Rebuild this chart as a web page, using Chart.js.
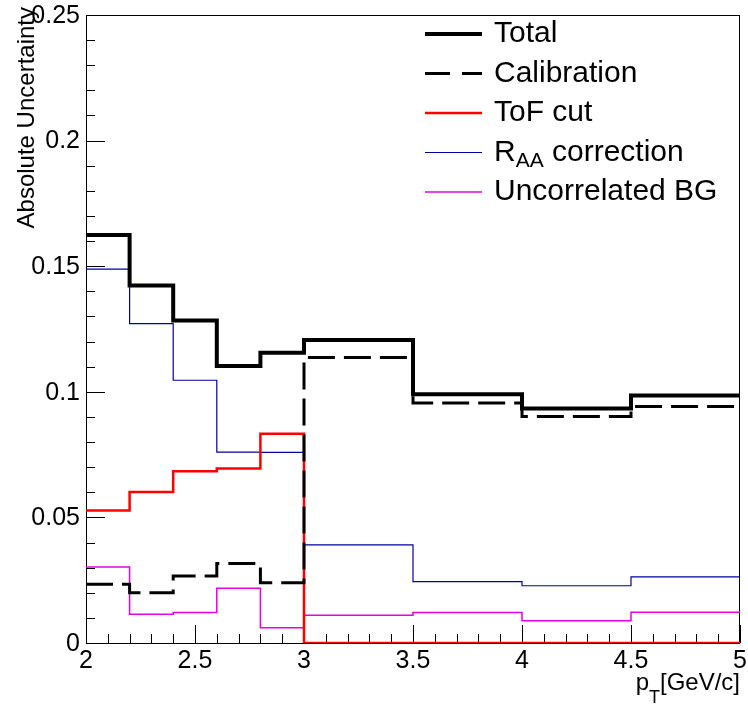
<!DOCTYPE html>
<html>
<head>
<meta charset="utf-8">
<script src="https://cdn.jsdelivr.net/npm/chart.js@4.4.0/dist/chart.umd.min.js"></script>
<style>
  html, body { margin: 0; padding: 0; background: #fff; }
</style>
</head>
<body>
<canvas id="main-chart" width="748" height="707"></canvas>
<script>
// bin edges in pT and the per-bin uncertainties
const binEdges = [2, 2.2, 2.4, 2.6, 2.8, 3.0, 3.5, 4.0, 4.5, 5.0];
const total = [0.1624, 0.1423, 0.1284, 0.1103, 0.1155, 0.1206, 0.0990, 0.0934, 0.0985];
const calibration = [0.0234, 0.0200, 0.0267, 0.0316, 0.0240, 0.1137, 0.0955, 0.0902, 0.0941];
const tofCut = [0.0527, 0.0601, 0.0684, 0.0695, 0.0833, 0, 0, 0, 0];
const raaCorrection = [0.1488, 0.1271, 0.1046, 0.0760, 0.0759, 0.0391, 0.0244, 0.0228, 0.0263];
const uncorrBG = [0.0303, 0.0114, 0.0121, 0.0218, 0.0061, 0.0110, 0.0121, 0.0089, 0.0122];
const seriesNames = ["Total", "Calibration", "ToF cut", "R_{AA} correction", "Uncorrelated BG"];
const yTickLabels = ["0", "0.05", "0.1", "0.15", "0.2", "0.25"];
const xTickLabels = ["2", "2.5", "3", "3.5", "4", "4.5", "5"];

const FONT = '"Liberation Sans", Helvetica, Arial, sans-serif';

// histogram as step line: one point per lower edge + closing point at last edge
function histPoints(values) {
  const pts = values.map((v, i) => ({ x: binEdges[i], y: v }));
  pts.push({ x: binEdges[binEdges.length - 1], y: values[values.length - 1] });
  return pts;
}

// draws "A_{sub}rest" with a subscript, returns width
function drawSubText(ctx, text, x, y, size, subSize, subShift, measureOnly) {
  const m = text.match(/^(.*?)_\{(.*?)\}(.*)$/);
  const parts = m ? [[m[1], size, 0], [m[2], subSize, subShift], [m[3], size, 0]] : [[text, size, 0]];
  let cx = x;
  parts.forEach(([t, s, dy]) => {
    ctx.font = s + "px " + FONT;
    if (!measureOnly) ctx.fillText(t, cx, y + dy);
    cx += ctx.measureText(t).width;
  });
  return cx - x;
}

const rootFrame = {
  id: "rootFrame",
  beforeDatasetsDraw(chart) {
    const { ctx, chartArea: a, scales } = chart;
    ctx.save();
    ctx.strokeStyle = "#000";
    ctx.lineWidth = 1;
    ctx.strokeRect(a.left + 0.5, a.top + 0.5, a.right - a.left - 1, a.bottom - a.top);
    ctx.beginPath();
    // y ticks every 0.01, major every 0.05
    for (let i = 0; i <= 25; i++) {
      const py = Math.round(scales.y.getPixelForValue(i * 0.01)) + 0.5;
      const len = i % 5 === 0 ? 19 : 9;
      ctx.moveTo(a.left, py);
      ctx.lineTo(a.left + len, py);
    }
    // x ticks every 0.1, major every 0.5
    for (let i = 0; i <= 30; i++) {
      const px = Math.round(scales.x.getPixelForValue(2 + i * 0.1)) + 0.5;
      const len = i % 5 === 0 ? 18 : 9;
      ctx.moveTo(px, a.bottom);
      ctx.lineTo(px, a.bottom - len);
    }
    ctx.stroke();
    ctx.restore();
  },
  afterDraw(chart) {
    const { ctx, chartArea: a, scales } = chart;
    ctx.save();
    ctx.fillStyle = "#000";
    // tick labels
    ctx.font = "25px " + FONT;
    ctx.textAlign = "right";
    ctx.textBaseline = "middle";
    yTickLabels.forEach((t) => {
      ctx.fillText(t, a.left - 6, scales.y.getPixelForValue(parseFloat(t)) + 1);
    });
    ctx.textAlign = "center";
    xTickLabels.forEach((t) => {
      ctx.fillText(t, scales.x.getPixelForValue(parseFloat(t)), a.bottom + 18);
    });
    // y title
    ctx.save();
    ctx.translate(34, 7);
    ctx.rotate(-Math.PI / 2);
    ctx.font = "24px " + FONT;
    ctx.textAlign = "right";
    ctx.textBaseline = "alphabetic";
    ctx.fillText("Absolute Uncertainty", 0, 0);
    ctx.restore();
    // x title
    ctx.textAlign = "left";
    ctx.textBaseline = "alphabetic";
    const xt = "p_{T}[GeV/c]";
    const w = drawSubText(ctx, xt, 0, 0, 24, 18, 13, true);
    drawSubText(ctx, xt, a.right - w, 690, 24, 18, 13, false);
    // legend
    chart.data.datasets.forEach((ds, i) => {
      const ly = 34 + i * 39.5;
      ctx.beginPath();
      ctx.strokeStyle = ds.borderColor;
      ctx.lineWidth = ds.borderWidth;
      ctx.setLineDash(ds.borderDash ? [25, 12] : []);
      ctx.moveTo(425, ly);
      ctx.lineTo(482, ly);
      ctx.stroke();
      ctx.setLineDash([]);
      ctx.fillStyle = "#000";
      ctx.textBaseline = "middle";
      drawSubText(ctx, ds.label, 494, ly, 30, 21, 9, false);
    });
    ctx.restore();
  }
};

const ctx = document.getElementById("main-chart").getContext("2d");

// "before" in Chart.js = stay at previous y until the next x, then jump
const base = { fill: false, pointRadius: 0, pointHoverRadius: 0, stepped: "before", tension: 0, borderCapStyle: "butt", borderJoinStyle: "miter" };

new Chart(ctx, {
  type: "line",
  data: {
    datasets: [
      { ...base, label: seriesNames[0], data: histPoints(total), borderColor: "#000000", borderWidth: 4 },
      { ...base, label: seriesNames[1], data: histPoints(calibration), borderColor: "#000000", borderWidth: 3, borderDash: [27, 9] },
      { ...base, label: seriesNames[2], data: histPoints(tofCut), borderColor: "#ff0000", borderWidth: 2.5 },
      { ...base, label: seriesNames[3], data: histPoints(raaCorrection), borderColor: "#0000a0", borderWidth: 1.2 },
      { ...base, label: seriesNames[4], data: histPoints(uncorrBG), borderColor: "#e600e6", borderWidth: 1.5 },
    ],
  },
  options: {
    responsive: false,
    animation: false,
    events: [],
    layout: { padding: { top: 15, right: 8, left: 0, bottom: 0 } },
    scales: {
      x: {
        type: "linear",
        min: 2,
        max: 5,
        grid: { display: false },
        border: { display: false },
        ticks: { display: false },
        afterFit: (s) => { s.height = 64; },
      },
      y: {
        type: "linear",
        min: 0,
        max: 0.25,
        grid: { display: false },
        border: { display: false },
        ticks: { display: false },
        afterFit: (s) => { s.width = 86; },
      },
    },
    plugins: {
      legend: { display: false },
      tooltip: { enabled: false },
    },
  },
  plugins: [rootFrame],
});
</script>
</body>
</html>
